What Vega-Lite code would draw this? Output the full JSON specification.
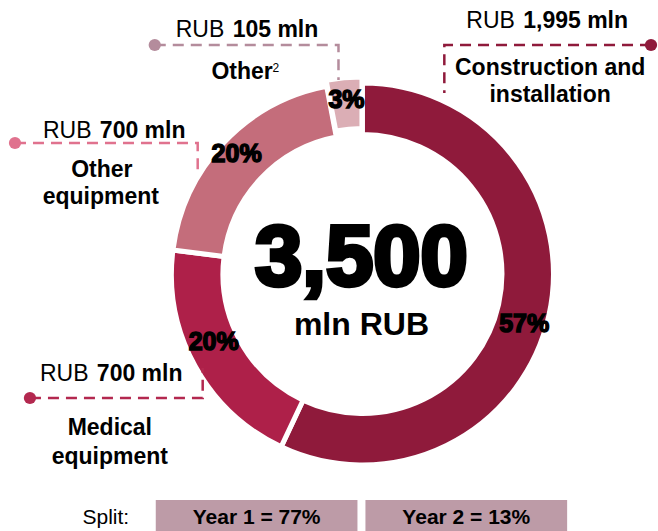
{
  "$schema": "https://vega.github.io/schema/vega-lite/v6.json",
  "width": 658,
  "height": 531,
  "autosize": {"type": "fit", "contains": "padding"},
  "padding": 0,
  "background": "white",
  "config": {"view": {"stroke": null}, "text": {"font": "Liberation Sans"}},
  "datasets": {
    "pie": [
      {"cat": "Construction and installation", "value": 1995, "ord": 1},
      {"cat": "Medical equipment", "value": 700, "ord": 2},
      {"cat": "Other equipment", "value": 700, "ord": 3},
      {"cat": "Other", "value": 105, "ord": 4}
    ],
    "pct": [
      {"t": "57%", "x": 525, "y": 324},
      {"t": "20%", "x": 214, "y": 342},
      {"t": "20%", "x": 237, "y": 154},
      {"t": "3%", "x": 347, "y": 100}
    ],
    "center": [
      {"t": "3,500", "x": 362, "y": 259, "s": "big"},
      {"t": "mln RUB", "x": 362, "y": 325, "s": "small"}
    ],
    "rub": [
      {"x": 176, "y": 37},
      {"x": 467, "y": 28},
      {"x": 43, "y": 138},
      {"x": 40, "y": 381}
    ],
    "amt": [
      {"t": "105 mln", "x": 233, "y": 37},
      {"t": "1,995 mln", "x": 524, "y": 28},
      {"t": "700 mln", "x": 100, "y": 138},
      {"t": "700 mln", "x": 97, "y": 381}
    ],
    "labels": [
      {"t": "Other", "x": 242.5, "y": 79},
      {"t": "Construction and", "x": 551, "y": 75},
      {"t": "installation", "x": 551, "y": 102},
      {"t": "Other", "x": 102, "y": 177},
      {"t": "equipment", "x": 101, "y": 204},
      {"t": "Medical", "x": 110, "y": 435},
      {"t": "equipment", "x": 110, "y": 464}
    ],
    "sup": [{"t": "2", "x": 273, "y": 72}],
    "conn": [
      {"k": "Other", "o": 0, "x": 155, "y": 45},
      {"k": "Other", "o": 1, "x": 339, "y": 45},
      {"k": "Other", "o": 2, "x": 339, "y": 80},
      {"k": "Construction", "o": 0, "x": 652, "y": 45},
      {"k": "Construction", "o": 1, "x": 445, "y": 45},
      {"k": "Construction", "o": 2, "x": 445, "y": 93},
      {"k": "OtherEq", "o": 0, "x": 15, "y": 143},
      {"k": "OtherEq", "o": 1, "x": 198, "y": 143},
      {"k": "OtherEq", "o": 2, "x": 198, "y": 170},
      {"k": "Medical", "o": 0, "x": 30, "y": 398},
      {"k": "Medical", "o": 1, "x": 203, "y": 398},
      {"k": "Medical", "o": 2, "x": 203, "y": 368}
    ],
    "boxes": [
      {"t": "Year 1 = 77%", "x": 156, "x2": 358, "y": 500, "y2": 531, "tx": 257, "ty": 524},
      {"t": "Year 2 = 13%", "x": 366, "x2": 568, "y": 500, "y2": 531, "tx": 467, "ty": 524}
    ],
    "split": [{"t": "Split:", "x": 106, "y": 524}]
  },
  "resolve": {"scale": {"color": "independent"}},
  "layer": [
    {
      "data": {"name": "pie"},
      "mark": {"type": "arc", "innerRadius": 139.5, "outerRadius": 191, "stroke": "white", "strokeWidth": 5},
      "encoding": {
        "theta": {"field": "value", "type": "quantitative", "stack": true},
        "order": {"field": "ord", "type": "quantitative"},
        "color": {
          "field": "cat", "type": "nominal", "legend": null,
          "scale": {"domain": ["Construction and installation", "Medical equipment", "Other equipment", "Other"], "range": ["#8F1A3B", "#AE2049", "#C46D7B", "#DBAEB5"]}
        },
        "opacity": {"condition": {"test": "datum.cat === 'Other'", "value": 0}, "value": 1},
        "x": {"datum": 363, "type": "quantitative", "axis": null, "scale": {"domain": [0, 658], "nice": false, "zero": false}},
        "y": {"datum": 274, "type": "quantitative", "axis": null, "scale": {"domain": [0, 531], "nice": false, "zero": false, "reverse": true}}
      }
    },
    {
      "data": {"name": "pie"},
      "mark": {"type": "arc", "innerRadius": 139.5, "outerRadius": 191, "stroke": "white", "strokeWidth": 5},
      "encoding": {
        "theta": {"field": "value", "type": "quantitative", "stack": true},
        "order": {"field": "ord", "type": "quantitative"},
        "color": {
          "field": "cat", "type": "nominal", "legend": null,
          "scale": {"domain": ["Construction and installation", "Medical equipment", "Other equipment", "Other"], "range": ["#8F1A3B", "#AE2049", "#C46D7B", "#DBAEB5"]}
        },
        "opacity": {"condition": {"test": "datum.cat === 'Other'", "value": 1}, "value": 0},
        "x": {"datum": 362.5, "type": "quantitative", "axis": null, "scale": {"domain": [0, 658], "nice": false, "zero": false}},
        "y": {"datum": 268, "type": "quantitative", "axis": null, "scale": {"domain": [0, 531], "nice": false, "zero": false, "reverse": true}}
      }
    },
    {
      "data": {"name": "conn"},
      "mark": {"type": "line", "strokeWidth": 2.5, "strokeDash": [11, 7]},
      "encoding": {
        "x": {"field": "x", "type": "quantitative", "axis": null, "scale": {"domain": [0, 658], "nice": false, "zero": false}},
        "y": {"field": "y", "type": "quantitative", "axis": null, "scale": {"domain": [0, 531], "nice": false, "zero": false, "reverse": true}},
        "order": {"field": "o", "type": "quantitative"},
        "detail": {"field": "k", "type": "nominal"},
        "color": {
          "field": "k", "type": "nominal", "legend": null,
          "scale": {"domain": ["Other", "Construction", "OtherEq", "Medical"], "range": ["#B48C9C", "#8F1A3B", "#E0728E", "#B3284F"]}
        }
      }
    },
    {
      "data": {"name": "conn"},
      "transform": [{"filter": "datum.o === 0"}],
      "mark": {"type": "circle", "size": 150, "opacity": 1},
      "encoding": {
        "x": {"field": "x", "type": "quantitative", "axis": null, "scale": {"domain": [0, 658], "nice": false, "zero": false}},
        "y": {"field": "y", "type": "quantitative", "axis": null, "scale": {"domain": [0, 531], "nice": false, "zero": false, "reverse": true}},
        "color": {
          "field": "k", "type": "nominal", "legend": null,
          "scale": {"domain": ["Other", "Construction", "OtherEq", "Medical"], "range": ["#B48C9C", "#8F1A3B", "#E0728E", "#B3284F"]}
        }
      }
    },
    {
      "data": {"name": "pct"},
      "mark": {"type": "text", "fontSize": 25, "fontWeight": "bold", "fill": "black", "stroke": "black", "strokeWidth": 1.5, "align": "center", "baseline": "middle"},
      "encoding": {
        "x": {"field": "x", "type": "quantitative", "axis": null, "scale": {"domain": [0, 658], "nice": false, "zero": false}},
        "y": {"field": "y", "type": "quantitative", "axis": null, "scale": {"domain": [0, 531], "nice": false, "zero": false, "reverse": true}},
        "text": {"field": "t"}
      }
    },
    {
      "data": {"name": "center"},
      "transform": [{"filter": "datum.s === 'big'"}],
      "mark": {"type": "text", "fontSize": 85, "fontWeight": "bold", "fill": "black", "stroke": "black", "strokeWidth": 4.5, "align": "center", "baseline": "middle"},
      "encoding": {
        "x": {"field": "x", "type": "quantitative", "axis": null, "scale": {"domain": [0, 658], "nice": false, "zero": false}},
        "y": {"field": "y", "type": "quantitative", "axis": null, "scale": {"domain": [0, 531], "nice": false, "zero": false, "reverse": true}},
        "text": {"field": "t"}
      }
    },
    {
      "data": {"name": "center"},
      "transform": [{"filter": "datum.s === 'small'"}],
      "mark": {"type": "text", "fontSize": 32, "fontWeight": "bold", "fill": "black", "align": "center", "baseline": "middle"},
      "encoding": {
        "x": {"field": "x", "type": "quantitative", "axis": null, "scale": {"domain": [0, 658], "nice": false, "zero": false}},
        "y": {"field": "y", "type": "quantitative", "axis": null, "scale": {"domain": [0, 531], "nice": false, "zero": false, "reverse": true}},
        "text": {"field": "t"}
      }
    },
    {
      "data": {"name": "rub"},
      "mark": {"type": "text", "text": "RUB", "fontSize": 23, "fill": "black", "align": "left", "baseline": "alphabetic"},
      "encoding": {
        "x": {"field": "x", "type": "quantitative", "axis": null, "scale": {"domain": [0, 658], "nice": false, "zero": false}},
        "y": {"field": "y", "type": "quantitative", "axis": null, "scale": {"domain": [0, 531], "nice": false, "zero": false, "reverse": true}}
      }
    },
    {
      "data": {"name": "amt"},
      "mark": {"type": "text", "fontSize": 23, "fontWeight": "bold", "fill": "black", "align": "left", "baseline": "alphabetic"},
      "encoding": {
        "x": {"field": "x", "type": "quantitative", "axis": null, "scale": {"domain": [0, 658], "nice": false, "zero": false}},
        "y": {"field": "y", "type": "quantitative", "axis": null, "scale": {"domain": [0, 531], "nice": false, "zero": false, "reverse": true}},
        "text": {"field": "t"}
      }
    },
    {
      "data": {"name": "labels"},
      "mark": {"type": "text", "fontSize": 23, "fontWeight": "bold", "fill": "black", "align": "center", "baseline": "alphabetic"},
      "encoding": {
        "x": {"field": "x", "type": "quantitative", "axis": null, "scale": {"domain": [0, 658], "nice": false, "zero": false}},
        "y": {"field": "y", "type": "quantitative", "axis": null, "scale": {"domain": [0, 531], "nice": false, "zero": false, "reverse": true}},
        "text": {"field": "t"}
      }
    },
    {
      "data": {"name": "sup"},
      "mark": {"type": "text", "fontSize": 12, "fill": "black", "align": "left", "baseline": "alphabetic"},
      "encoding": {
        "x": {"field": "x", "type": "quantitative", "axis": null, "scale": {"domain": [0, 658], "nice": false, "zero": false}},
        "y": {"field": "y", "type": "quantitative", "axis": null, "scale": {"domain": [0, 531], "nice": false, "zero": false, "reverse": true}},
        "text": {"field": "t"}
      }
    },
    {
      "data": {"name": "boxes"},
      "mark": {"type": "rect", "fill": "#BD9BA7"},
      "encoding": {
        "x": {"field": "x", "type": "quantitative", "axis": null, "scale": {"domain": [0, 658], "nice": false, "zero": false}},
        "x2": {"field": "x2"},
        "y": {"field": "y", "type": "quantitative", "axis": null, "scale": {"domain": [0, 531], "nice": false, "zero": false, "reverse": true}},
        "y2": {"field": "y2"}
      }
    },
    {
      "data": {"name": "boxes"},
      "mark": {"type": "text", "fontSize": 21, "fontWeight": "bold", "fill": "black", "align": "center", "baseline": "alphabetic"},
      "encoding": {
        "x": {"field": "tx", "type": "quantitative", "axis": null, "scale": {"domain": [0, 658], "nice": false, "zero": false}},
        "y": {"field": "ty", "type": "quantitative", "axis": null, "scale": {"domain": [0, 531], "nice": false, "zero": false, "reverse": true}},
        "text": {"field": "t"}
      }
    },
    {
      "data": {"name": "split"},
      "mark": {"type": "text", "fontSize": 21, "fill": "black", "align": "center", "baseline": "alphabetic"},
      "encoding": {
        "x": {"field": "x", "type": "quantitative", "axis": null, "scale": {"domain": [0, 658], "nice": false, "zero": false}},
        "y": {"field": "y", "type": "quantitative", "axis": null, "scale": {"domain": [0, 531], "nice": false, "zero": false, "reverse": true}},
        "text": {"field": "t"}
      }
    }
  ]
}
